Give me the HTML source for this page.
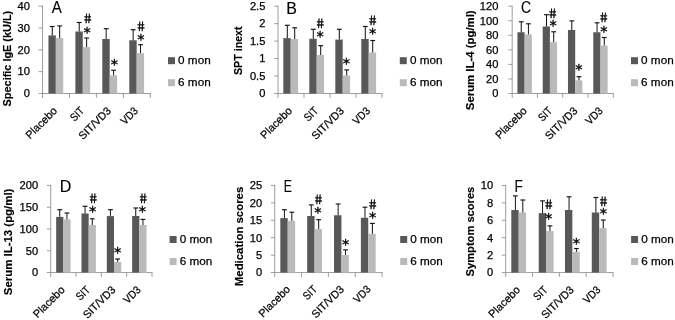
<!DOCTYPE html>
<html><head><meta charset="utf-8"><title>Figure</title>
<style>
html,body{margin:0;padding:0;background:#fff}
svg{display:block}
text{font-family:"Liberation Sans", sans-serif;fill:#000;stroke:#000;stroke-width:0.25px}
.tk{font-size:10.6px}
.xl{font-size:11px}
.lg{font-size:11.4px}
.pl{font-size:16px;stroke-width:0.15px}
.yl{font-size:11.2px;font-weight:bold;stroke-width:0.15px}
.hs{font-size:13.6px;stroke-width:0.45px}
.as{font-family:"DejaVu Sans","Liberation Sans",sans-serif;font-size:14.5px;stroke-width:0.35px}
</style></head><body>
<svg width="675" height="320" viewBox="0 0 675 320">
<rect width="675" height="320" fill="#fff"/>
<defs><filter id="soft" x="0" y="0" width="675" height="320" filterUnits="userSpaceOnUse"><feGaussianBlur stdDeviation="0.4"/></filter></defs>
<g filter="url(#soft)">
<path d="M42.5 5.7V97.9M38.6 93.5H150.8" stroke="#8c8c8c" stroke-width="0.85" fill="none"/>
<path d="M38.6 71.67H42.5M38.6 49.85H42.5M38.6 28.03H42.5M38.6 6.20H42.5M69.45 93.5V97.9M96.40 93.5V97.9M123.35 93.5V97.9M150.30 93.5V97.9" stroke="#8c8c8c" stroke-width="0.85" fill="none"/>
<text x="29.9" y="97.30" text-anchor="end" class="tk" textLength="6.19" lengthAdjust="spacingAndGlyphs">0</text>
<text x="29.9" y="75.47" text-anchor="end" class="tk" textLength="12.38" lengthAdjust="spacingAndGlyphs">10</text>
<text x="29.9" y="53.65" text-anchor="end" class="tk" textLength="12.38" lengthAdjust="spacingAndGlyphs">20</text>
<text x="29.9" y="31.83" text-anchor="end" class="tk" textLength="12.38" lengthAdjust="spacingAndGlyphs">30</text>
<text x="29.9" y="10.00" text-anchor="end" class="tk" textLength="12.38" lengthAdjust="spacingAndGlyphs">40</text>
<rect x="48.43" y="35.4" width="7.40" height="58.10" fill="#595959"/>
<rect x="55.83" y="38.1" width="7.40" height="55.40" fill="#bababa"/>
<path d="M52.27 35.4V26.5" stroke="#141414" stroke-width="1" fill="none"/><path d="M49.88 26.5H54.67" stroke="#141414" stroke-width="1.15" fill="none"/>
<path d="M59.68 38.1V25.9" stroke="#141414" stroke-width="1" fill="none"/><path d="M57.28 25.9H62.08" stroke="#141414" stroke-width="1.15" fill="none"/>
<text transform="translate(57.93 111.50) rotate(-45)" text-anchor="end" class="xl" textLength="39.6" lengthAdjust="spacingAndGlyphs">Placebo</text>
<rect x="75.38" y="31.5" width="7.40" height="62.00" fill="#595959"/>
<rect x="82.78" y="47.1" width="7.40" height="46.40" fill="#bababa"/>
<path d="M79.23 31.5V22.5" stroke="#141414" stroke-width="1" fill="none"/><path d="M76.83 22.5H81.63" stroke="#141414" stroke-width="1.15" fill="none"/>
<path d="M86.63 47.1V38.0" stroke="#141414" stroke-width="1" fill="none"/><path d="M84.23 38.0H89.03" stroke="#141414" stroke-width="1.15" fill="none"/>
<text transform="translate(84.88 111.50) rotate(-45)" text-anchor="end" class="xl" textLength="14.8" lengthAdjust="spacingAndGlyphs">SIT</text>
<rect x="102.32" y="39" width="7.40" height="54.50" fill="#595959"/>
<rect x="109.72" y="75.4" width="7.40" height="18.10" fill="#bababa"/>
<path d="M106.17 39V28.7" stroke="#141414" stroke-width="1" fill="none"/><path d="M103.77 28.7H108.58" stroke="#141414" stroke-width="1.15" fill="none"/>
<path d="M113.58 75.4V70.3" stroke="#141414" stroke-width="1" fill="none"/><path d="M111.17 70.3H115.98" stroke="#141414" stroke-width="1.15" fill="none"/>
<text transform="translate(111.82 111.50) rotate(-45)" text-anchor="end" class="xl" textLength="40.6" lengthAdjust="spacingAndGlyphs">SIT/VD3</text>
<rect x="129.28" y="40.25" width="7.40" height="53.25" fill="#595959"/>
<rect x="136.68" y="53.1" width="7.40" height="40.40" fill="#bababa"/>
<path d="M133.13 40.25V29.7" stroke="#141414" stroke-width="1" fill="none"/><path d="M130.73 29.7H135.53" stroke="#141414" stroke-width="1.15" fill="none"/>
<path d="M140.53 53.1V44.7" stroke="#141414" stroke-width="1" fill="none"/><path d="M138.12 44.7H142.93" stroke="#141414" stroke-width="1.15" fill="none"/>
<text transform="translate(138.78 111.50) rotate(-45)" text-anchor="end" class="xl" textLength="19.4" lengthAdjust="spacingAndGlyphs">VD3</text>
<text transform="translate(88.35 22.70) skewX(8) scale(0.9 1)" text-anchor="middle" class="hs">#</text>
<text x="87.00" y="36.70" text-anchor="middle" class="as">*</text>
<text x="114.25" y="69.45" text-anchor="middle" class="as">*</text>
<text transform="translate(141.60 30.70) skewX(8) scale(0.9 1)" text-anchor="middle" class="hs">#</text>
<text x="140.75" y="43.85" text-anchor="middle" class="as">*</text>
<rect x="168" y="57.2" width="7" height="7" fill="#595959"/>
<rect x="168" y="79.2" width="7" height="7" fill="#bababa"/>
<text x="178.1" y="64.3" class="lg" textLength="32.6" lengthAdjust="spacingAndGlyphs">0 mon</text>
<text x="178.1" y="86.3" class="lg" textLength="32.6" lengthAdjust="spacingAndGlyphs">6 mon</text>
<text transform="translate(51.87 12.6) scale(0.94 1)" class="pl">A</text>
<text transform="translate(11 106.4) rotate(-90)" class="yl" textLength="95.6" lengthAdjust="spacingAndGlyphs">Specific IgE (kU/L)</text>
<path d="M278 5.7V97.9M274.1 93.5H382.5" stroke="#8c8c8c" stroke-width="0.85" fill="none"/>
<path d="M274.1 76.04H278M274.1 58.58H278M274.1 41.12H278M274.1 23.66H278M274.1 6.20H278M304.00 93.5V97.9M330.00 93.5V97.9M356.00 93.5V97.9M382.00 93.5V97.9" stroke="#8c8c8c" stroke-width="0.85" fill="none"/>
<text x="265.4" y="97.30" text-anchor="end" class="tk" textLength="6.19" lengthAdjust="spacingAndGlyphs">0</text>
<text x="265.4" y="79.84" text-anchor="end" class="tk" textLength="15.47" lengthAdjust="spacingAndGlyphs">0.5</text>
<text x="265.4" y="62.38" text-anchor="end" class="tk" textLength="6.19" lengthAdjust="spacingAndGlyphs">1</text>
<text x="265.4" y="44.92" text-anchor="end" class="tk" textLength="15.47" lengthAdjust="spacingAndGlyphs">1.5</text>
<text x="265.4" y="27.46" text-anchor="end" class="tk" textLength="6.19" lengthAdjust="spacingAndGlyphs">2</text>
<text x="265.4" y="10.00" text-anchor="end" class="tk" textLength="15.47" lengthAdjust="spacingAndGlyphs">2.5</text>
<rect x="283.30" y="38.1" width="7.40" height="55.40" fill="#595959"/>
<rect x="290.70" y="39" width="7.40" height="54.50" fill="#bababa"/>
<path d="M287.30 38.1V25.3" stroke="#141414" stroke-width="1" fill="none"/><path d="M284.90 25.3H289.70" stroke="#141414" stroke-width="1.15" fill="none"/>
<path d="M294.70 39V27.8" stroke="#141414" stroke-width="1" fill="none"/><path d="M292.30 27.8H297.10" stroke="#141414" stroke-width="1.15" fill="none"/>
<text transform="translate(292.80 111.50) rotate(-45)" text-anchor="end" class="xl" textLength="39.6" lengthAdjust="spacingAndGlyphs">Placebo</text>
<rect x="309.30" y="38.75" width="7.40" height="54.75" fill="#595959"/>
<rect x="316.70" y="55" width="7.40" height="38.50" fill="#bababa"/>
<path d="M313.30 38.75V29.3" stroke="#141414" stroke-width="1" fill="none"/><path d="M310.90 29.3H315.70" stroke="#141414" stroke-width="1.15" fill="none"/>
<path d="M320.70 55V45.7" stroke="#141414" stroke-width="1" fill="none"/><path d="M318.30 45.7H323.10" stroke="#141414" stroke-width="1.15" fill="none"/>
<text transform="translate(318.80 111.50) rotate(-45)" text-anchor="end" class="xl" textLength="14.8" lengthAdjust="spacingAndGlyphs">SIT</text>
<rect x="335.30" y="39.6" width="7.40" height="53.90" fill="#595959"/>
<rect x="342.70" y="75.4" width="7.40" height="18.10" fill="#bababa"/>
<path d="M339.30 39.6V29.3" stroke="#141414" stroke-width="1" fill="none"/><path d="M336.90 29.3H341.70" stroke="#141414" stroke-width="1.15" fill="none"/>
<path d="M346.70 75.4V69.9" stroke="#141414" stroke-width="1" fill="none"/><path d="M344.30 69.9H349.10" stroke="#141414" stroke-width="1.15" fill="none"/>
<text transform="translate(344.80 111.50) rotate(-45)" text-anchor="end" class="xl" textLength="40.6" lengthAdjust="spacingAndGlyphs">SIT/VD3</text>
<rect x="361.30" y="39" width="7.40" height="54.50" fill="#595959"/>
<rect x="368.70" y="52.5" width="7.40" height="41.00" fill="#bababa"/>
<path d="M365.30 39V26.5" stroke="#141414" stroke-width="1" fill="none"/><path d="M362.90 26.5H367.70" stroke="#141414" stroke-width="1.15" fill="none"/>
<path d="M372.70 52.5V40.5" stroke="#141414" stroke-width="1" fill="none"/><path d="M370.30 40.5H375.10" stroke="#141414" stroke-width="1.15" fill="none"/>
<text transform="translate(370.80 111.50) rotate(-45)" text-anchor="end" class="xl" textLength="19.4" lengthAdjust="spacingAndGlyphs">VD3</text>
<text transform="translate(320.85 28.30) skewX(8) scale(0.9 1)" text-anchor="middle" class="hs">#</text>
<text x="320.20" y="41.05" text-anchor="middle" class="as">*</text>
<text x="346.25" y="67.70" text-anchor="middle" class="as">*</text>
<text transform="translate(373.35 25.05) skewX(8) scale(0.9 1)" text-anchor="middle" class="hs">#</text>
<text x="372.70" y="37.95" text-anchor="middle" class="as">*</text>
<rect x="399.8" y="57.2" width="7" height="7" fill="#595959"/>
<rect x="399.8" y="79.2" width="7" height="7" fill="#bababa"/>
<text x="409.9" y="64.3" class="lg" textLength="32.6" lengthAdjust="spacingAndGlyphs">0 mon</text>
<text x="409.9" y="86.3" class="lg" textLength="32.6" lengthAdjust="spacingAndGlyphs">6 mon</text>
<text transform="translate(286.19 13.5) scale(1.0 1)" class="pl">B</text>
<text transform="translate(241.7 75) rotate(-90)" class="yl" textLength="48.6" lengthAdjust="spacingAndGlyphs">SPT inext</text>
<path d="M512.2 5.7V97.9M508.30000000000007 93.5H613.8" stroke="#8c8c8c" stroke-width="0.85" fill="none"/>
<path d="M508.30000000000007 78.95H512.2M508.30000000000007 64.40H512.2M508.30000000000007 49.85H512.2M508.30000000000007 35.30H512.2M508.30000000000007 20.75H512.2M508.30000000000007 6.20H512.2M537.48 93.5V97.9M562.75 93.5V97.9M588.02 93.5V97.9M613.30 93.5V97.9" stroke="#8c8c8c" stroke-width="0.85" fill="none"/>
<text x="498.4" y="97.30" text-anchor="end" class="tk" textLength="6.19" lengthAdjust="spacingAndGlyphs">0</text>
<text x="498.4" y="82.75" text-anchor="end" class="tk" textLength="12.38" lengthAdjust="spacingAndGlyphs">20</text>
<text x="498.4" y="68.20" text-anchor="end" class="tk" textLength="12.38" lengthAdjust="spacingAndGlyphs">40</text>
<text x="498.4" y="53.65" text-anchor="end" class="tk" textLength="12.38" lengthAdjust="spacingAndGlyphs">60</text>
<text x="498.4" y="39.10" text-anchor="end" class="tk" textLength="12.38" lengthAdjust="spacingAndGlyphs">80</text>
<text x="498.4" y="24.55" text-anchor="end" class="tk" textLength="18.56" lengthAdjust="spacingAndGlyphs">100</text>
<text x="498.4" y="10.00" text-anchor="end" class="tk" textLength="18.56" lengthAdjust="spacingAndGlyphs">120</text>
<rect x="517.44" y="32.25" width="7.20" height="61.25" fill="#595959"/>
<rect x="524.64" y="34.4" width="7.20" height="59.10" fill="#bababa"/>
<path d="M521.24 32.25V21.8" stroke="#141414" stroke-width="1" fill="none"/><path d="M518.84 21.8H523.64" stroke="#141414" stroke-width="1.15" fill="none"/>
<path d="M528.44 34.4V23.8" stroke="#141414" stroke-width="1" fill="none"/><path d="M526.04 23.8H530.84" stroke="#141414" stroke-width="1.15" fill="none"/>
<text transform="translate(527.64 111.50) rotate(-45)" text-anchor="end" class="xl" textLength="39.6" lengthAdjust="spacingAndGlyphs">Placebo</text>
<rect x="542.71" y="26.5" width="7.20" height="67.00" fill="#595959"/>
<rect x="549.91" y="42.1" width="7.20" height="51.40" fill="#bababa"/>
<path d="M546.51 26.5V14.7" stroke="#141414" stroke-width="1" fill="none"/><path d="M544.11 14.7H548.91" stroke="#141414" stroke-width="1.15" fill="none"/>
<path d="M553.71 42.1V31.8" stroke="#141414" stroke-width="1" fill="none"/><path d="M551.31 31.8H556.11" stroke="#141414" stroke-width="1.15" fill="none"/>
<text transform="translate(552.91 111.50) rotate(-45)" text-anchor="end" class="xl" textLength="14.8" lengthAdjust="spacingAndGlyphs">SIT</text>
<rect x="567.99" y="30" width="7.20" height="63.50" fill="#595959"/>
<rect x="575.19" y="80.4" width="7.20" height="13.10" fill="#bababa"/>
<path d="M571.79 30V20.9" stroke="#141414" stroke-width="1" fill="none"/><path d="M569.39 20.9H574.19" stroke="#141414" stroke-width="1.15" fill="none"/>
<path d="M578.99 80.4V76.7" stroke="#141414" stroke-width="1" fill="none"/><path d="M576.59 76.7H581.39" stroke="#141414" stroke-width="1.15" fill="none"/>
<text transform="translate(578.19 111.50) rotate(-45)" text-anchor="end" class="xl" textLength="40.6" lengthAdjust="spacingAndGlyphs">SIT/VD3</text>
<rect x="593.26" y="32.25" width="7.20" height="61.25" fill="#595959"/>
<rect x="600.46" y="45.6" width="7.20" height="47.90" fill="#bababa"/>
<path d="M597.06 32.25V22.8" stroke="#141414" stroke-width="1" fill="none"/><path d="M594.66 22.8H599.46" stroke="#141414" stroke-width="1.15" fill="none"/>
<path d="M604.26 45.6V37.5" stroke="#141414" stroke-width="1" fill="none"/><path d="M601.86 37.5H606.66" stroke="#141414" stroke-width="1.15" fill="none"/>
<text transform="translate(603.46 111.50) rotate(-45)" text-anchor="end" class="xl" textLength="19.4" lengthAdjust="spacingAndGlyphs">VD3</text>
<text transform="translate(553.50 17.70) skewX(8) scale(0.9 1)" text-anchor="middle" class="hs">#</text>
<text x="553.00" y="29.85" text-anchor="middle" class="as">*</text>
<text x="578.75" y="74.20" text-anchor="middle" class="as">*</text>
<text transform="translate(604.48 22.30) skewX(8) scale(0.9 1)" text-anchor="middle" class="hs">#</text>
<text x="603.83" y="35.70" text-anchor="middle" class="as">*</text>
<rect x="631" y="57.2" width="7" height="7" fill="#595959"/>
<rect x="631" y="79.2" width="7" height="7" fill="#bababa"/>
<text x="641.1" y="64.3" class="lg" textLength="32.6" lengthAdjust="spacingAndGlyphs">0 mon</text>
<text x="641.1" y="86.3" class="lg" textLength="32.6" lengthAdjust="spacingAndGlyphs">6 mon</text>
<text transform="translate(521.04 13.0) scale(0.87 1)" class="pl">C</text>
<text transform="translate(473.6 110.2) rotate(-90)" class="yl" textLength="99.8" lengthAdjust="spacingAndGlyphs">Serum IL-4 (pg/ml)</text>
<path d="M50.7 184.95V276.95M46.800000000000004 272.55H152.5" stroke="#8c8c8c" stroke-width="0.85" fill="none"/>
<path d="M46.800000000000004 250.78H50.7M46.800000000000004 229.00H50.7M46.800000000000004 207.22H50.7M46.800000000000004 185.45H50.7M76.03 272.55V276.95M101.35 272.55V276.95M126.67 272.55V276.95M152.00 272.55V276.95" stroke="#8c8c8c" stroke-width="0.85" fill="none"/>
<text x="38.1" y="276.35" text-anchor="end" class="tk" textLength="6.19" lengthAdjust="spacingAndGlyphs">0</text>
<text x="38.1" y="254.58" text-anchor="end" class="tk" textLength="12.38" lengthAdjust="spacingAndGlyphs">50</text>
<text x="38.1" y="232.80" text-anchor="end" class="tk" textLength="18.56" lengthAdjust="spacingAndGlyphs">100</text>
<text x="38.1" y="211.03" text-anchor="end" class="tk" textLength="18.56" lengthAdjust="spacingAndGlyphs">150</text>
<text x="38.1" y="189.25" text-anchor="end" class="tk" textLength="18.56" lengthAdjust="spacingAndGlyphs">200</text>
<rect x="56.16" y="216.9" width="7.20" height="55.65" fill="#595959"/>
<rect x="63.36" y="219.4" width="7.20" height="53.15" fill="#bababa"/>
<path d="M59.76 216.9V209.7" stroke="#141414" stroke-width="1" fill="none"/><path d="M57.36 209.7H62.16" stroke="#141414" stroke-width="1.15" fill="none"/>
<path d="M66.96 219.4V213.0" stroke="#141414" stroke-width="1" fill="none"/><path d="M64.56 213.0H69.36" stroke="#141414" stroke-width="1.15" fill="none"/>
<text transform="translate(65.46 290.55) rotate(-45)" text-anchor="end" class="xl" textLength="39.6" lengthAdjust="spacingAndGlyphs">Placebo</text>
<rect x="81.49" y="213.5" width="7.20" height="59.05" fill="#595959"/>
<rect x="88.69" y="225" width="7.20" height="47.55" fill="#bababa"/>
<path d="M85.09 213.5V206.3" stroke="#141414" stroke-width="1" fill="none"/><path d="M82.69 206.3H87.49" stroke="#141414" stroke-width="1.15" fill="none"/>
<path d="M92.29 225V218.8" stroke="#141414" stroke-width="1" fill="none"/><path d="M89.89 218.8H94.69" stroke="#141414" stroke-width="1.15" fill="none"/>
<text transform="translate(90.79 290.55) rotate(-45)" text-anchor="end" class="xl" textLength="14.8" lengthAdjust="spacingAndGlyphs">SIT</text>
<rect x="106.81" y="216.1" width="7.20" height="56.45" fill="#595959"/>
<rect x="114.01" y="261.9" width="7.20" height="10.65" fill="#bababa"/>
<path d="M110.41 216.1V209.7" stroke="#141414" stroke-width="1" fill="none"/><path d="M108.01 209.7H112.81" stroke="#141414" stroke-width="1.15" fill="none"/>
<path d="M117.61 261.9V259.0" stroke="#141414" stroke-width="1" fill="none"/><path d="M115.21 259.0H120.01" stroke="#141414" stroke-width="1.15" fill="none"/>
<text transform="translate(116.11 290.55) rotate(-45)" text-anchor="end" class="xl" textLength="40.6" lengthAdjust="spacingAndGlyphs">SIT/VD3</text>
<rect x="132.14" y="216" width="7.20" height="56.55" fill="#595959"/>
<rect x="139.34" y="225" width="7.20" height="47.55" fill="#bababa"/>
<path d="M135.74 216V208.0" stroke="#141414" stroke-width="1" fill="none"/><path d="M133.34 208.0H138.14" stroke="#141414" stroke-width="1.15" fill="none"/>
<path d="M142.94 225V219.4" stroke="#141414" stroke-width="1" fill="none"/><path d="M140.54 219.4H145.34" stroke="#141414" stroke-width="1.15" fill="none"/>
<text transform="translate(141.44 290.55) rotate(-45)" text-anchor="end" class="xl" textLength="19.4" lengthAdjust="spacingAndGlyphs">VD3</text>
<text transform="translate(93.85 202.90) skewX(8) scale(0.9 1)" text-anchor="middle" class="hs">#</text>
<text x="92.50" y="216.35" text-anchor="middle" class="as">*</text>
<text x="117.55" y="257.35" text-anchor="middle" class="as">*</text>
<text transform="translate(143.78 202.90) skewX(8) scale(0.9 1)" text-anchor="middle" class="hs">#</text>
<text x="142.35" y="216.35" text-anchor="middle" class="as">*</text>
<rect x="169.6" y="236" width="7" height="7" fill="#595959"/>
<rect x="169.6" y="258" width="7" height="7" fill="#bababa"/>
<text x="179.7" y="243.1" class="lg" textLength="32.6" lengthAdjust="spacingAndGlyphs">0 mon</text>
<text x="179.7" y="265.1" class="lg" textLength="32.6" lengthAdjust="spacingAndGlyphs">6 mon</text>
<text transform="translate(59.69 191.5) scale(1.0 1)" class="pl">D</text>
<text transform="translate(12.4 295.2) rotate(-90)" class="yl" textLength="106.6" lengthAdjust="spacingAndGlyphs">Serum IL-13 (pg/ml)</text>
<path d="M274.7 184.95V276.95M270.8 272.55H382.6" stroke="#8c8c8c" stroke-width="0.85" fill="none"/>
<path d="M270.8 255.13H274.7M270.8 237.71H274.7M270.8 220.29H274.7M270.8 202.87H274.7M270.8 185.45H274.7M301.55 272.55V276.95M328.40 272.55V276.95M355.25 272.55V276.95M382.10 272.55V276.95" stroke="#8c8c8c" stroke-width="0.85" fill="none"/>
<text x="262.1" y="276.35" text-anchor="end" class="tk" textLength="6.19" lengthAdjust="spacingAndGlyphs">0</text>
<text x="262.1" y="258.93" text-anchor="end" class="tk" textLength="6.19" lengthAdjust="spacingAndGlyphs">5</text>
<text x="262.1" y="241.51" text-anchor="end" class="tk" textLength="12.38" lengthAdjust="spacingAndGlyphs">10</text>
<text x="262.1" y="224.09" text-anchor="end" class="tk" textLength="12.38" lengthAdjust="spacingAndGlyphs">15</text>
<text x="262.1" y="206.67" text-anchor="end" class="tk" textLength="12.38" lengthAdjust="spacingAndGlyphs">20</text>
<text x="262.1" y="189.25" text-anchor="end" class="tk" textLength="12.38" lengthAdjust="spacingAndGlyphs">25</text>
<rect x="280.33" y="218.1" width="7.40" height="54.45" fill="#595959"/>
<rect x="287.73" y="220.9" width="7.40" height="51.65" fill="#bababa"/>
<path d="M284.43 218.1V209.7" stroke="#141414" stroke-width="1" fill="none"/><path d="M282.03 209.7H286.82" stroke="#141414" stroke-width="1.15" fill="none"/>
<path d="M291.82 220.9V212.2" stroke="#141414" stroke-width="1" fill="none"/><path d="M289.43 212.2H294.22" stroke="#141414" stroke-width="1.15" fill="none"/>
<text transform="translate(290.93 289.95) rotate(-45)" text-anchor="end" class="xl" textLength="39.6" lengthAdjust="spacingAndGlyphs">Placebo</text>
<rect x="307.18" y="216" width="7.40" height="56.55" fill="#595959"/>
<rect x="314.58" y="229.1" width="7.40" height="43.45" fill="#bababa"/>
<path d="M311.28 216V204.9" stroke="#141414" stroke-width="1" fill="none"/><path d="M308.88 204.9H313.68" stroke="#141414" stroke-width="1.15" fill="none"/>
<path d="M318.68 229.1V219.7" stroke="#141414" stroke-width="1" fill="none"/><path d="M316.28 219.7H321.07" stroke="#141414" stroke-width="1.15" fill="none"/>
<text transform="translate(317.78 289.95) rotate(-45)" text-anchor="end" class="xl" textLength="14.8" lengthAdjust="spacingAndGlyphs">SIT</text>
<rect x="334.03" y="215.25" width="7.40" height="57.30" fill="#595959"/>
<rect x="341.43" y="255" width="7.40" height="17.55" fill="#bababa"/>
<path d="M338.13 215.25V204.0" stroke="#141414" stroke-width="1" fill="none"/><path d="M335.73 204.0H340.53" stroke="#141414" stroke-width="1.15" fill="none"/>
<path d="M345.53 255V249.9" stroke="#141414" stroke-width="1" fill="none"/><path d="M343.13 249.9H347.93" stroke="#141414" stroke-width="1.15" fill="none"/>
<text transform="translate(344.63 289.95) rotate(-45)" text-anchor="end" class="xl" textLength="40.6" lengthAdjust="spacingAndGlyphs">SIT/VD3</text>
<rect x="360.88" y="217.75" width="7.40" height="54.80" fill="#595959"/>
<rect x="368.28" y="233.75" width="7.40" height="38.80" fill="#bababa"/>
<path d="M364.98 217.75V207.2" stroke="#141414" stroke-width="1" fill="none"/><path d="M362.58 207.2H367.38" stroke="#141414" stroke-width="1.15" fill="none"/>
<path d="M372.38 233.75V223.4" stroke="#141414" stroke-width="1" fill="none"/><path d="M369.98 223.4H374.77" stroke="#141414" stroke-width="1.15" fill="none"/>
<text transform="translate(371.48 289.95) rotate(-45)" text-anchor="end" class="xl" textLength="19.4" lengthAdjust="spacingAndGlyphs">VD3</text>
<text transform="translate(319.20 203.55) skewX(8) scale(0.9 1)" text-anchor="middle" class="hs">#</text>
<text x="317.75" y="216.70" text-anchor="middle" class="as">*</text>
<text x="345.50" y="249.20" text-anchor="middle" class="as">*</text>
<text transform="translate(373.47 208.55) skewX(8) scale(0.9 1)" text-anchor="middle" class="hs">#</text>
<text x="372.65" y="221.70" text-anchor="middle" class="as">*</text>
<rect x="400.2" y="236" width="7" height="7" fill="#595959"/>
<rect x="400.2" y="258" width="7" height="7" fill="#bababa"/>
<text x="410.3" y="243.1" class="lg" textLength="32.6" lengthAdjust="spacingAndGlyphs">0 mon</text>
<text x="410.3" y="265.1" class="lg" textLength="32.6" lengthAdjust="spacingAndGlyphs">6 mon</text>
<text transform="translate(283.75 191.8) scale(0.76 1)" class="pl">E</text>
<text transform="translate(243.1 286.2) rotate(-90)" class="yl" textLength="99.5" lengthAdjust="spacingAndGlyphs">Medication scores</text>
<path d="M505.7 184.95V276.95M501.8 272.55H613.5" stroke="#8c8c8c" stroke-width="0.85" fill="none"/>
<path d="M501.8 255.13H505.7M501.8 237.71H505.7M501.8 220.29H505.7M501.8 202.87H505.7M501.8 185.45H505.7M532.52 272.55V276.95M559.35 272.55V276.95M586.17 272.55V276.95M613.00 272.55V276.95" stroke="#8c8c8c" stroke-width="0.85" fill="none"/>
<text x="493.1" y="276.35" text-anchor="end" class="tk" textLength="6.19" lengthAdjust="spacingAndGlyphs">0</text>
<text x="493.1" y="258.93" text-anchor="end" class="tk" textLength="6.19" lengthAdjust="spacingAndGlyphs">2</text>
<text x="493.1" y="241.51" text-anchor="end" class="tk" textLength="6.19" lengthAdjust="spacingAndGlyphs">4</text>
<text x="493.1" y="224.09" text-anchor="end" class="tk" textLength="6.19" lengthAdjust="spacingAndGlyphs">6</text>
<text x="493.1" y="206.67" text-anchor="end" class="tk" textLength="6.19" lengthAdjust="spacingAndGlyphs">8</text>
<text x="493.1" y="189.25" text-anchor="end" class="tk" textLength="12.38" lengthAdjust="spacingAndGlyphs">10</text>
<rect x="511.31" y="210" width="7.40" height="62.55" fill="#595959"/>
<rect x="518.71" y="212.5" width="7.40" height="60.05" fill="#bababa"/>
<path d="M515.41 210V195.9" stroke="#141414" stroke-width="1" fill="none"/><path d="M513.01 195.9H517.81" stroke="#141414" stroke-width="1.15" fill="none"/>
<path d="M522.81 212.5V200.0" stroke="#141414" stroke-width="1" fill="none"/><path d="M520.41 200.0H525.21" stroke="#141414" stroke-width="1.15" fill="none"/>
<text transform="translate(520.81 290.55) rotate(-45)" text-anchor="end" class="xl" textLength="39.6" lengthAdjust="spacingAndGlyphs">Placebo</text>
<rect x="538.74" y="213.1" width="7.40" height="59.45" fill="#595959"/>
<rect x="546.14" y="231" width="7.40" height="41.55" fill="#bababa"/>
<path d="M542.54 213.1V200.9" stroke="#141414" stroke-width="1" fill="none"/><path d="M540.14 200.9H544.94" stroke="#141414" stroke-width="1.15" fill="none"/>
<path d="M549.94 231V225.9" stroke="#141414" stroke-width="1" fill="none"/><path d="M547.54 225.9H552.34" stroke="#141414" stroke-width="1.15" fill="none"/>
<text transform="translate(548.24 290.55) rotate(-45)" text-anchor="end" class="xl" textLength="14.8" lengthAdjust="spacingAndGlyphs">SIT</text>
<rect x="564.96" y="210" width="7.40" height="62.55" fill="#595959"/>
<rect x="572.36" y="251.8" width="7.40" height="20.75" fill="#bababa"/>
<path d="M569.06 210V196.8" stroke="#141414" stroke-width="1" fill="none"/><path d="M566.66 196.8H571.46" stroke="#141414" stroke-width="1.15" fill="none"/>
<path d="M576.46 251.8V248.5" stroke="#141414" stroke-width="1" fill="none"/><path d="M574.06 248.5H578.86" stroke="#141414" stroke-width="1.15" fill="none"/>
<text transform="translate(574.46 290.55) rotate(-45)" text-anchor="end" class="xl" textLength="40.6" lengthAdjust="spacingAndGlyphs">SIT/VD3</text>
<rect x="591.79" y="212.5" width="7.40" height="60.05" fill="#595959"/>
<rect x="599.19" y="228.1" width="7.40" height="44.45" fill="#bababa"/>
<path d="M595.89 212.5V197.5" stroke="#141414" stroke-width="1" fill="none"/><path d="M593.49 197.5H598.29" stroke="#141414" stroke-width="1.15" fill="none"/>
<path d="M603.29 228.1V220.0" stroke="#141414" stroke-width="1" fill="none"/><path d="M600.89 220.0H605.69" stroke="#141414" stroke-width="1.15" fill="none"/>
<text transform="translate(601.29 290.55) rotate(-45)" text-anchor="end" class="xl" textLength="19.4" lengthAdjust="spacingAndGlyphs">VD3</text>
<text transform="translate(549.45 209.40) skewX(8) scale(0.9 1)" text-anchor="middle" class="hs">#</text>
<text x="548.70" y="222.55" text-anchor="middle" class="as">*</text>
<text x="576.45" y="248.05" text-anchor="middle" class="as">*</text>
<text transform="translate(604.23 206.05) skewX(8) scale(0.9 1)" text-anchor="middle" class="hs">#</text>
<text x="603.25" y="218.25" text-anchor="middle" class="as">*</text>
<rect x="631.1" y="236" width="7" height="7" fill="#595959"/>
<rect x="631.1" y="258" width="7" height="7" fill="#bababa"/>
<text x="641.2" y="243.1" class="lg" textLength="32.6" lengthAdjust="spacingAndGlyphs">0 mon</text>
<text x="641.2" y="265.1" class="lg" textLength="32.6" lengthAdjust="spacingAndGlyphs">6 mon</text>
<text transform="translate(514.48 191.5) scale(0.85 1)" class="pl">F</text>
<text transform="translate(473.6 276.4) rotate(-90)" class="yl" textLength="89.7" lengthAdjust="spacingAndGlyphs">Symptom scores</text>
</g>
</svg>
</body></html>
